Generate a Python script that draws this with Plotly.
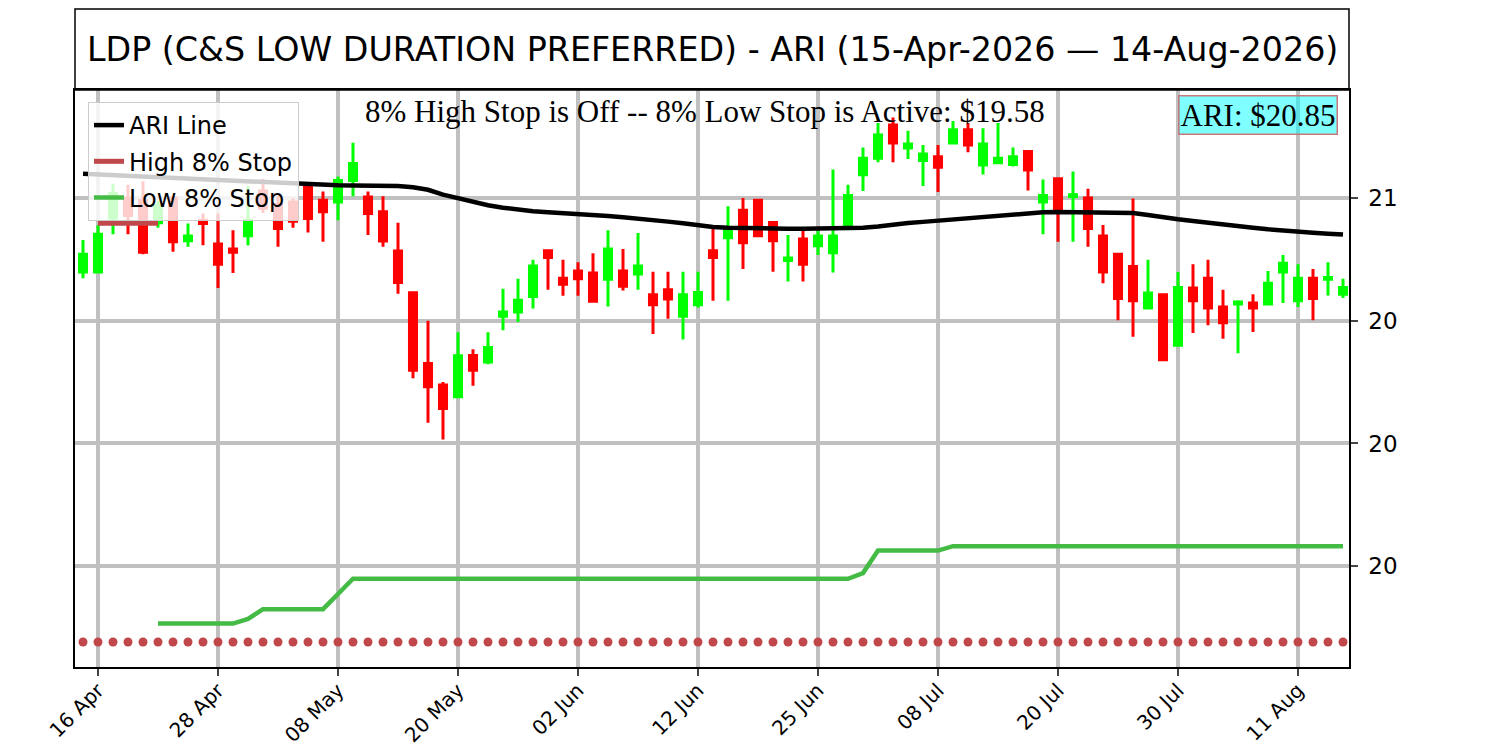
import plotly.graph_objects as go

# ------------------( 1 ) Data -------------------------------------------
# trading days, 15-Apr-2026 .. 14-Aug-2026 (day numbers per month)
days = {
    "04": [15, 16, 17, 20, 21, 22, 23, 24, 27, 28, 29, 30],
    "05": [1, 4, 5, 6, 7, 8, 11, 12, 13, 14, 15, 18, 19, 20, 21, 22, 26, 27, 28, 29],
    "06": [1, 2, 3, 4, 5, 8, 9, 10, 11, 12, 15, 16, 17, 18, 22, 23, 24, 25, 26, 29, 30],
    "07": [1, 2, 6, 7, 8, 9, 10, 13, 14, 15, 16, 17, 20, 21, 22, 23, 24, 27, 28, 29, 30, 31],
    "08": [3, 4, 5, 6, 7, 10, 11, 12, 13, 14],
}
dates = ["2026-%s-%02d" % (m, d) for m in days for d in days[m]]

open_ = [20.699, 20.700, 20.920, 21.000, 20.990, 20.900, 21.000, 20.827, 20.911, 20.814,
         20.793, 20.847, 21.030, 20.975, 20.985, 21.055, 20.992, 20.985, 21.073, 21.005,
         20.945, 20.785, 20.615, 20.326, 20.238, 20.191, 20.359, 20.332, 20.519, 20.536,
         20.600, 20.786, 20.674, 20.704, 20.695, 20.670, 20.704, 20.691, 20.607, 20.627,
         20.519, 20.566, 20.786, 20.839, 20.951, 20.992, 20.901, 20.746, 20.834, 20.807,
         20.778, 20.884, 21.096, 21.164, 21.299, 21.205, 21.154, 21.170, 21.226, 21.280,
         21.136, 21.145, 21.138, 21.191, 20.985, 21.080, 21.007, 21.001, 20.846, 20.772,
         20.722, 20.553, 20.607, 20.401, 20.634, 20.674, 20.557, 20.569, 20.573, 20.569,
         20.699, 20.582, 20.674, 20.670, 20.609]
high = [20.830, 20.890, 21.060, 21.055, 21.070, 20.990, 21.010, 20.897, 20.938, 20.938,
        20.870, 21.050, 21.080, 21.010, 20.999, 21.060, 21.028, 21.089, 21.227, 21.028,
        21.009, 20.900, 20.615, 20.501, 20.251, 20.454, 20.384, 20.454, 20.631, 20.672,
        20.749, 20.789, 20.749, 20.739, 20.776, 20.870, 20.793, 20.859, 20.701, 20.701,
        20.701, 20.701, 20.877, 20.968, 21.001, 20.992, 20.901, 20.850, 20.870, 20.870,
        21.118, 21.055, 21.207, 21.307, 21.330, 21.276, 21.218, 21.218, 21.316, 21.307,
        21.286, 21.307, 21.207, 21.191, 21.077, 21.080, 21.109, 21.039, 20.891, 20.772,
        20.999, 20.749, 20.607, 20.699, 20.731, 20.749, 20.627, 20.584, 20.609, 20.704,
        20.769, 20.731, 20.712, 20.739, 20.672]
low = [20.674, 20.700, 20.853, 20.853, 20.772, 20.880, 20.782, 20.803, 20.809, 20.634,
       20.695, 20.809, 20.940, 20.803, 20.880, 20.861, 20.823, 20.911, 21.009, 20.850,
       20.803, 20.611, 20.266, 20.084, 20.016, 20.191, 20.235, 20.323, 20.462, 20.495,
       20.551, 20.627, 20.603, 20.603, 20.580, 20.559, 20.624, 20.627, 20.447, 20.509,
       20.424, 20.555, 20.582, 20.582, 20.712, 20.847, 20.701, 20.661, 20.661, 20.769,
       20.697, 20.884, 21.030, 21.147, 21.147, 21.161, 21.050, 21.026, 21.226, 21.188,
       21.097, 21.145, 21.130, 21.032, 20.853, 20.823, 20.823, 20.803, 20.654, 20.503,
       20.435, 20.546, 20.341, 20.401, 20.451, 20.482, 20.427, 20.368, 20.455, 20.569,
       20.573, 20.557, 20.503, 20.604, 20.593]
close = [20.772, 20.853, 21.020, 20.930, 20.780, 20.970, 20.823, 20.846, 20.897, 20.731,
         20.780, 20.911, 20.960, 20.877, 20.907, 20.918, 20.945, 21.073, 21.142, 20.938,
         20.826, 20.657, 20.299, 20.231, 20.143, 20.358, 20.299, 20.391, 20.536, 20.584,
         20.724, 20.759, 20.650, 20.672, 20.580, 20.793, 20.641, 20.724, 20.566, 20.589,
         20.607, 20.616, 20.759, 20.873, 20.819, 20.847, 20.827, 20.757, 20.731, 20.846,
         20.846, 21.012, 21.164, 21.258, 21.226, 21.222, 21.181, 21.127, 21.280, 21.218,
         21.222, 21.164, 21.170, 21.116, 21.012, 20.958, 21.015, 20.877, 20.699, 20.591,
         20.582, 20.614, 20.341, 20.636, 20.582, 20.553, 20.492, 20.577, 20.553, 20.654,
         20.735, 20.674, 20.591, 20.677, 20.636]

ari = [21.100, 21.097, 21.094, 21.091, 21.088, 21.085, 21.082, 21.079, 21.076, 21.073,
       21.070, 21.067, 21.064, 21.061, 21.058, 21.056, 21.054, 21.053, 21.052, 21.052,
       21.051, 21.050, 21.045, 21.035, 21.015, 21.000, 20.985, 20.972, 20.962, 20.953,
       20.947, 20.943, 20.940, 20.936, 20.933, 20.928, 20.923, 20.918, 20.913, 20.905,
       20.898, 20.890, 20.883, 20.880, 20.878, 20.877, 20.876, 20.876, 20.876, 20.876,
       20.876, 20.877, 20.880, 20.885, 20.893, 20.899, 20.904, 20.909, 20.915, 20.920,
       20.925, 20.930, 20.935, 20.940, 20.943, 20.944, 20.944, 20.944, 20.944, 20.943,
       20.940, 20.932, 20.922, 20.915, 20.908, 20.900, 20.893, 20.886, 20.880, 20.874,
       20.868, 20.864, 20.860, 20.856, 20.852]

high_stop = [None, 20.898, 20.898, 20.898, 20.898, 20.898] + [None] * 79
high_stop_off = [19.19] * 85

low_stop = [None, None, None, None, None,
            19.265, 19.265, 19.265, 19.265, 19.265, 19.265, 19.284, 19.324, 19.324, 19.324,
            19.324, 19.324, 19.386, 19.448, 19.448, 19.448, 19.448, 19.448, 19.448, 19.448,
            19.448, 19.448, 19.448, 19.448, 19.448, 19.448, 19.448, 19.448, 19.448, 19.448,
            19.448, 19.448, 19.448, 19.448, 19.448, 19.448, 19.448, 19.448, 19.448, 19.448,
            19.448, 19.448, 19.448, 19.448, 19.448, 19.448, 19.448, 19.471, 19.563, 19.563,
            19.563, 19.563, 19.563, 19.581, 19.581, 19.581, 19.581, 19.581, 19.581, 19.581,
            19.581, 19.581, 19.581, 19.581, 19.581, 19.581, 19.581, 19.581, 19.581, 19.581,
            19.581, 19.581, 19.581, 19.581, 19.581, 19.581, 19.581, 19.581, 19.581, 19.581]

tick_dates = ["2026-04-16", "2026-04-28", "2026-05-08", "2026-05-20", "2026-06-02", "2026-06-12",
              "2026-06-25", "2026-07-08", "2026-07-20", "2026-07-30", "2026-08-11"]
tick_labels = ["16 Apr", "28 Apr", "08 May", "20 May", "02 Jun", "12 Jun",
               "25 Jun", "08 Jul", "20 Jul", "30 Jul", "11 Aug"]
y_ticks = [19.5, 20.0, 20.5, 21.0]
y_labels = ["20", "20", "20", "21"]

title = "LDP (C&S LOW DURATION PREFERRED) - ARI (15-Apr-2026 \u2014 14-Aug-2026)"
stop_text = "8% High Stop is Off -- 8% Low Stop is Active: $19.58"
ari_text = "ARI: $20.85"

# ------------------( 2 ) Traces ------------------------------------------
fig = go.Figure()

fig.add_trace(go.Scatter(x=dates, y=ari, mode="lines", name="ARI Line",
                         line=dict(color="black", width=4.5), legendgroup="a"))
fig.add_trace(go.Scatter(x=dates, y=high_stop, mode="lines", name="High 8% Stop",
                         line=dict(color="#c0474a", width=5), legendgroup="b"))
fig.add_trace(go.Scatter(x=dates, y=high_stop_off, mode="markers", showlegend=False,
                         marker=dict(color="#c0474a", size=9), hoverinfo="skip"))
fig.add_trace(go.Scatter(x=dates, y=low_stop, mode="lines", name="Low 8% Stop",
                         line=dict(color="#44bb44", width=4.5), legendgroup="c"))

fig.add_trace(go.Candlestick(x=dates, open=open_, high=high, low=low, close=close,
                             showlegend=False,
                             increasing=dict(line=dict(color="#00ff00", width=3), fillcolor="#00ff00"),
                             decreasing=dict(line=dict(color="#ff0000", width=3), fillcolor="#ff0000")))

# ------------------( 3 ) Layout ------------------------------------------
# page body adds ~8px offset, so the figure is a bit smaller than the window
top = 577 / 658  # top of plot area in paper units; title panel sits above it

fig.update_layout(
    width=1492, height=742,
    margin=dict(l=67, r=151, t=1, b=83),
    plot_bgcolor="white", paper_bgcolor="white",
    font=dict(family="DejaVu Sans", color="black"),
    boxgap=0.53, boxgroupgap=0,
    showlegend=True,
    legend=dict(x=0.0102, y=(667 - 102) / 658, xanchor="left", yanchor="top",
                bgcolor="rgba(255,255,255,0.8)", bordercolor="#cccccc", borderwidth=1,
                font=dict(size=24), tracegroupgap=2),
    xaxis=dict(type="category", range=[-0.533, 84.4], rangeslider=dict(visible=False),
               tickvals=tick_dates, ticktext=tick_labels, tickangle=-45, automargin=False,
               tickfont=dict(size=20), ticks="outside", ticklen=7, tickwidth=1.5,
               ticklabelstandoff=-5,
               showgrid=True, gridcolor="#c0c0c0", gridwidth=4,
               showline=True, linecolor="black", linewidth=1.5, mirror=True),
    yaxis=dict(domain=[0, top], range=[19.088, 21.442], side="right", automargin=False,
               tickvals=y_ticks, ticktext=y_labels, tickfont=dict(size=23),
               ticks="outside", ticklen=7, tickwidth=1.5, ticklabelstandoff=6,
               showgrid=True, gridcolor="#c0c0c0", gridwidth=4, zeroline=False,
               showline=True, linecolor="black", linewidth=1.5, mirror=True),
    shapes=[dict(type="rect", xref="paper", yref="paper", x0=0, x1=1, y0=top, y1=1,
                 line=dict(color="black", width=1.5))],
    annotations=[
        dict(text=title, xref="paper", yref="paper", x=0.5, y=(top + 1) / 2,
             xanchor="center", yanchor="middle", showarrow=False,
             font=dict(size=33.3, family="DejaVu Sans")),
        dict(text=stop_text, xref="paper", yref="paper", x=0.4945, y=(667 - 92) / 658,
             xanchor="center", yanchor="top", showarrow=False,
             font=dict(size=31, family="Liberation Serif")),
        dict(text=ari_text, xref="paper", yref="paper", x=(1338 - 75) / 1274, y=(667 - 95) / 658,
             xanchor="right", yanchor="top", showarrow=False,
             font=dict(size=31, family="Liberation Serif"),
             bgcolor="rgba(0,255,255,0.5)", bordercolor="#c87a7a", borderwidth=1.5, borderpad=1),
    ],
)

fig.write_html("out.html")
